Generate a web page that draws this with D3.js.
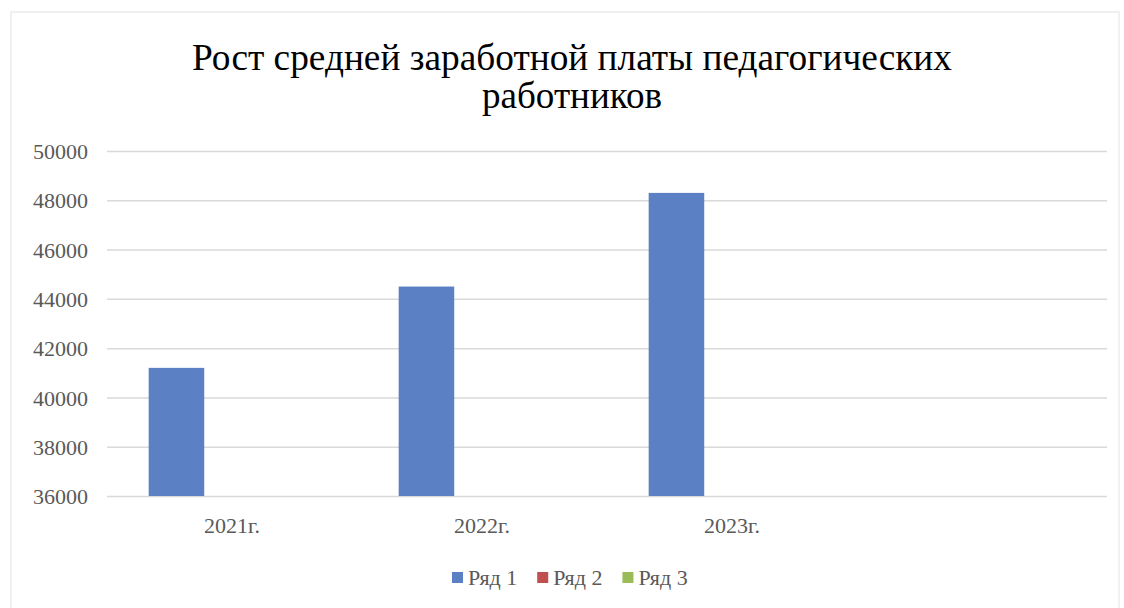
<!DOCTYPE html>
<html>
<head>
<meta charset="utf-8">
<script src="https://cdn.jsdelivr.net/npm/d3@7"></script>
<style>
  html, body { margin: 0; padding: 0; background: #fff; }
</style>
</head>
<body>
<div id="chart"></div>
<script>
// data
const categories = ['2021г.', '2022г.', '2023г.', ''];
const seriesNames = ['Ряд 1', 'Ряд 2', 'Ряд 3'];
const row1 = [41200, 44500, 48300, null];
const row2 = [null, null, null, null];
const row3 = [null, null, null, null];
const yTicks = [36000, 38000, 40000, 42000, 44000, 46000, 48000, 50000];
const titleLines = ['Рост средней заработной платы педагогических', 'работников'];

const W = 1124, H = 608;
const FONT = 'Liberation Serif';
const COL = ['#5b80c4', '#c0504d', '#9bbb59'];
const TXT = '#595959';

const svg = d3.select('#chart').append('svg')
  .attr('width', W).attr('height', H)
  .attr('viewBox', `0 0 ${W} ${H}`)
  .attr('font-family', FONT);

// chart frame
svg.append('rect')
  .attr('x', 11).attr('y', 12).attr('width', 1108).attr('height', 600)
  .attr('fill', '#fff').attr('stroke', '#ececec').attr('stroke-width', 1.5);

// title
const titleW = [760, 180];
svg.selectAll('.title').data(titleLines).enter().append('text')
  .attr('class', 'title')
  .attr('x', 572)
  .attr('y', (d, i) => 70 + i * 38)
  .attr('text-anchor', 'middle')
  .attr('font-family', FONT)
  .attr('font-size', 37)
  .attr('fill', '#000')
  .attr('textLength', (d, i) => titleW[i])
  .attr('lengthAdjust', 'spacingAndGlyphs')
  .text(d => d);

// scales
const x = d3.scaleBand().domain(d3.range(categories.length)).range([107, 1107]);
const xs = d3.scaleBand().domain(seriesNames).range([0, x.bandwidth()])
  .paddingInner(0).paddingOuter(0.75);
const y = d3.scaleLinear().domain([36000, 50000]).range([496, 151]);

// y axis + grid
const yAxis = svg.append('g')
  .attr('transform', 'translate(107,0)')
  .call(d3.axisLeft(y).tickValues(yTicks).tickSize(-1000).tickPadding(19).tickFormat(d3.format('d')));
yAxis.attr('font-family', FONT).attr('font-size', 22);
yAxis.select('.domain').remove();
yAxis.selectAll('.tick line').attr('stroke', '#d9d9d9').attr('stroke-width', 1.5);
yAxis.selectAll('.tick text')
  .attr('fill', TXT)
  .attr('dy', '0.35em')
  .attr('font-family', FONT)
  .attr('font-size', 22);

// bars
const series = [row1, row2, row3];
seriesNames.forEach((name, si) => {
  const vals = series[si].map((v, i) => ({ i, v })).filter(d => d.v != null);
  svg.append('g').selectAll('rect').data(vals).enter().append('rect')
    .attr('x', d => x(d.i) + xs(name))
    .attr('width', xs.bandwidth())
    .attr('y', d => y(d.v))
    .attr('height', d => y(36000) - y(d.v))
    .attr('fill', COL[si]);
});

// category labels
svg.append('g').selectAll('text').data(categories).enter().append('text')
  .attr('x', (d, i) => x(i) + x.bandwidth() / 2)
  .attr('y', 533)
  .attr('text-anchor', 'middle')
  .attr('font-family', FONT)
  .attr('font-size', 22)
  .attr('fill', TXT)
  .text(d => d);

// legend
const legend = svg.append('g');
let lx = 452;
seriesNames.forEach((name, si) => {
  legend.append('rect')
    .attr('x', lx).attr('y', 572).attr('width', 11).attr('height', 11)
    .attr('fill', COL[si]);
  const t = legend.append('text')
    .attr('x', lx + 16).attr('y', 585)
    .attr('font-family', FONT)
    .attr('font-size', 22).attr('fill', TXT)
    .text(name);
  lx += 16 + t.node().getComputedTextLength() + 20;
});
</script>
</body>
</html>
